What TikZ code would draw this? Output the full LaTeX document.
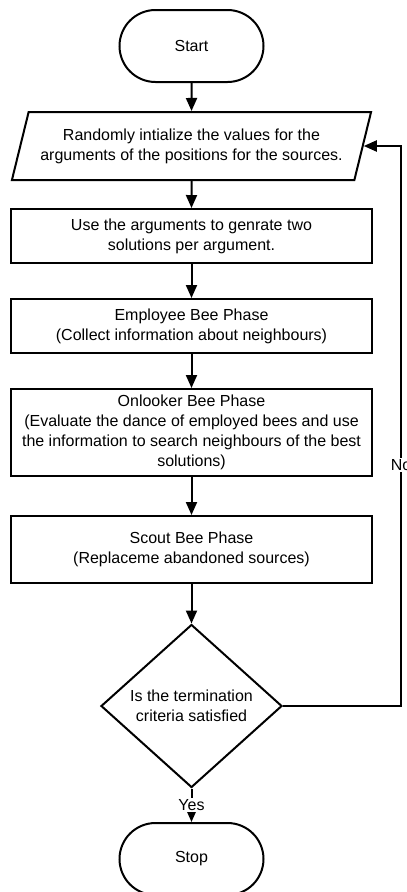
\documentclass[tikz,border=0pt]{standalone}
\usepackage{fontspec}
\setmainfont{Liberation Sans}
\usetikzlibrary{arrows.meta, shapes.geometric}

\begin{document}
\begin{tikzpicture}[
    x=1pt, y=-1pt,
    base/.style={draw=black, line width=2pt, align=center, font=\fontsize{16}{20}\selectfont, inner sep=2pt},
    term/.style={base, rectangle, rounded corners=36pt, minimum width=144pt, minimum height=72pt},
    io/.style={base, trapezium, trapezium left angle=68, trapezium right angle=112, trapezium stretches=true, minimum width=361pt, minimum height=68pt},
    proc/.style={base, rectangle, minimum width=361pt},
    decide/.style={base, diamond, aspect=1.11, inner sep=-4pt, minimum width=181pt, minimum height=163pt},
    lbl/.style={fill=white, font=\fontsize{16}{18}\selectfont, inner sep=1.5pt},
    >={Triangle[length=13pt, width=11pt]}
  ]
  \useasboundingbox (0,0) rectangle (407,892);

  \node[term] (start) at (191.5, 46) {Start};
  \node[io] (init) at (191.5, 146) {Randomly intialize the values for the\\arguments of the positions for the sources.};
  \node[proc, minimum height=54pt] (gen) at (191.5, 236) {Use the arguments to genrate two\\solutions per argument.};
  \node[proc, minimum height=54pt] (emp) at (191.5, 326) {Employee Bee Phase\\(Collect information about neighbours)};
  \node[proc, minimum height=87pt] (onl) at (191.5, 432.5) {Onlooker Bee Phase\\(Evaluate the dance of employed bees and use\\the information to search neighbours of the best\\solutions)};
  \node[proc, minimum height=67pt] (sct) at (191.5, 549.5) {Scout Bee Phase\\(Replaceme abandoned sources)};
  \node[decide] (test) at (191.5, 706) {Is the termination\\criteria satisfied};
  \node[term] (stop) at (191.5, 859) {Stop};

  \foreach \a/\b in {start/init, init/gen, gen/emp, emp/onl, onl/sct, sct/test} {
    \draw[->, line width=2pt] (\a.south) -- (\b.north);
  }
  \draw[->, line width=2pt] (test.south) -- node[lbl] {Yes} (stop.north);
  \draw[->, line width=2pt] (test.east) -- ++(118,0) |- node[lbl, pos=0.215] {No} (init.east);

\end{tikzpicture}
\end{document}
